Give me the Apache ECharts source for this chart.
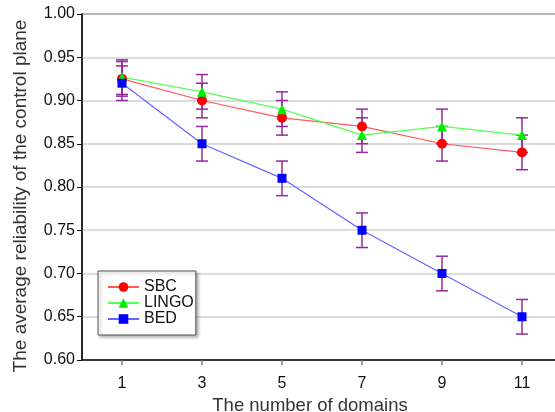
<!DOCTYPE html>
<html lang="en">
<head>
    <meta charset="UTF-8">
    <title>Control plane reliability</title>
    <style>
        html, body { margin: 0; padding: 0; background: #fff; }
    </style>
</head>
<body>
<div id="main" style="width: 555px;height: 412px;"></div>
<script src="https://cdn.jsdelivr.net/npm/echarts@6/dist/echarts.min.js"></script>
<script type="text/javascript">

    // number of domains
    var domains = [1, 3, 5, 7, 9, 11];
    // average reliability for each scheme
    var sbc = [0.925, 0.90, 0.88, 0.87, 0.85, 0.84];
    var lingo = [0.927, 0.91, 0.89, 0.86, 0.87, 0.86];
    var bed = [0.92, 0.85, 0.81, 0.75, 0.70, 0.65];
    // error bar half length
    var sbcErr = [0.02, 0.02, 0.02, 0.02, 0.02, 0.02];
    var lingoErr = [0.02, 0.02, 0.02, 0.02, 0.02, 0.02];
    var bedErr = [0.02, 0.02, 0.02, 0.02, 0.02, 0.02];
    var xTicks = [1, 3, 5, 7, 9, 11];

    var font = 'Liberation Sans';

    function points(vals) {
        return domains.map(function (d, i) { return [d, vals[i]]; });
    }
    function bars(vals, errs) {
        return domains.map(function (d, i) { return [d, vals[i] - errs[i], vals[i] + errs[i]]; });
    }

    // vertical bar with two caps
    function renderErr(params, api) {
        var x = api.value(0);
        var lo = api.coord([x, api.value(1)]);
        var hi = api.coord([x, api.value(2)]);
        var w = 6;
        var st = {stroke: '#962a9c', lineWidth: 1.5};
        return {
            type: 'group',
            children: [
                {type: 'line', shape: {x1: hi[0], y1: hi[1], x2: lo[0], y2: lo[1]}, style: st},
                {type: 'line', shape: {x1: hi[0] - w, y1: hi[1], x2: hi[0] + w, y2: hi[1]}, style: st},
                {type: 'line', shape: {x1: lo[0] - w, y1: lo[1], x2: lo[0] + w, y2: lo[1]}, style: st}
            ]
        };
    }

    function errSeries(vals, errs) {
        return {
            type: 'custom',
            renderItem: renderErr,
            data: bars(vals, errs),
            z: 1,
            silent: true,
            encode: {x: 0, y: [1, 2]}
        };
    }

    function lineSeries(name, vals, color, lineColor, symbol, size) {
        return {
            name: name,
            type: 'line',
            data: points(vals),
            symbol: symbol,
            symbolSize: size,
            z: 3,
            itemStyle: {color: color},
            lineStyle: {color: lineColor, width: 1.2}
        };
    }

    var option = {
        backgroundColor: '#fff',
        animation: false,
        grid: {
            left: 82,
            top: 14,
            width: 480,
            height: 346,
            outerBoundsMode: 'none',
            containLabel: false,
            show: true,
            borderColor: '#444',
            borderWidth: 1.5
        },
        legend: {
            orient: 'vertical',
            left: 98,
            top: 271,
            padding: [8, 2, 8, 9],
            itemWidth: 31,
            itemHeight: 12,
            itemGap: 0,
            backgroundColor: '#fff',
            borderColor: '#555',
            borderWidth: 1,
            shadowColor: 'rgba(0,0,0,0.3)',
            shadowBlur: 3,
            shadowOffsetX: 2,
            shadowOffsetY: 2,
            textStyle: {fontFamily: font, fontSize: 16, color: '#111', lineHeight: 16},
            data: ['SBC', 'LINGO', 'BED']
        },
        xAxis: {
            type: 'value',
            min: 0,
            max: 12,
            name: 'The number of domains',
            nameLocation: 'middle',
            nameGap: 28,
            nameTextStyle: {fontFamily: font, fontSize: 18.5, color: '#333', padding: [0, 24, 0, 0]},
            axisLine: {show: true, lineStyle: {color: '#111', width: 1.5}},
            axisTick: {show: true, length: 5, customValues: xTicks, lineStyle: {color: '#777', width: 1.5}},
            axisLabel: {customValues: xTicks, fontFamily: font, fontSize: 16, color: '#111', margin: 16},
            splitLine: {show: false}
        },
        yAxis: {
            type: 'value',
            min: 0.6,
            max: 1.0,
            interval: 0.05,
            name: 'The average reliability of the control plane',
            nameLocation: 'middle',
            nameGap: 52,
            nameTextStyle: {fontFamily: font, fontSize: 19, color: '#333', padding: [0, 18, 0, 0]},
            axisLine: {show: true, lineStyle: {color: '#111', width: 1.5}},
            axisTick: {show: true, length: 5, lineStyle: {color: '#111'}},
            axisLabel: {
                fontFamily: font, fontSize: 16, color: '#111', margin: 7,
                formatter: function (v) { return v.toFixed(2); }
            },
            splitLine: {show: true, lineStyle: {color: '#cfcfcf', width: 1.5}}
        },
        series: [
            errSeries(sbc, sbcErr),
            errSeries(lingo, lingoErr),
            errSeries(bed, bedErr),
            lineSeries('SBC', sbc, '#ff0000', '#ff5a5a', 'circle', 10),
            lineSeries('LINGO', lingo, '#00ee00', '#55ff55', 'triangle', 10),
            lineSeries('BED', bed, '#0000ff', '#6464ff', 'rect', 9)
        ]
    };

    var myChart = echarts.init(document.getElementById('main'));
    myChart.setOption(option);
</script>
</body>
</html>
